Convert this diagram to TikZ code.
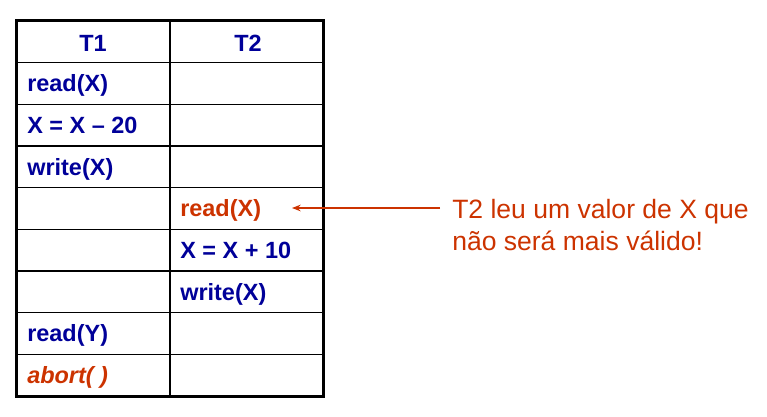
\documentclass[tikz,border=0pt]{standalone}
\usepackage{fontspec}
\setmainfont{Liberation Sans}
\usetikzlibrary{arrows.meta,positioning}

\begin{document}
\begin{tikzpicture}[x=0.75pt, y=-0.75pt]
  \definecolor{opblue}{HTML}{000099}
  \definecolor{opred}{HTML}{CC3300}
  \tikzstyle{cell}=[anchor=base west, inner sep=0pt, text=opblue,
    font=\fontsize{17.6}{20}\selectfont\bfseries]
  \tikzstyle{head}=[cell, anchor=base]
  \tikzstyle{fail}=[cell, text=opred]
  \tikzstyle{note}=[anchor=base west, inner sep=0pt, text=opred,
    font=\fontsize{19.9}{24}\selectfont]
  \tikzstyle{pointer}=[draw=opred, line width=0.8pt,
    -{Stealth[length=6.5pt, width=5pt]}]

  \useasboundingbox (0,0) rectangle (767,417);

  % schedule grid
  \foreach \r in {1,...,8}
    \draw[line width=1pt] (16,{21+\r*41.67}) -- (323,{21+\r*41.67});
  \draw[line width=1pt] (170,21) -- (170,396);
  \draw[line width=2.25pt] (16,21) rectangle (323,396);

  \node[head] (t1) at (93,52) {T1};
  \node[head] (t2) at (248,52) {T2};

  \node[cell] (r1) at (27,91.8) {read(X)};
  \node[cell] (r2) at (27,133.5) {X = X – 20};
  \node[cell] (r3) at (27,175.1) {write(X)};
  \node[fail] (r4) at (180,216.8) {read(X)};
  \node[cell] (r5) at (180,258.5) {X = X + 10};
  \node[cell] (r6) at (180,300.1) {write(X)};
  \node[cell] (r7) at (27,341.8) {read(Y)};
  \node[fail, font=\fontsize{17.6}{20}\selectfont\bfseries\itshape] (r8) at (27,383.5) {abort( )};

  % remark
  \node[note] (note1) at (452,218) {T2 leu um valor de X que};
  \node[note] (note2) at (452,250) {não será mais válido!};

  \coordinate (tail) at ([xshift=-9pt]note1.base west);
  \coordinate (tip) at ([xshift=23pt, yshift=6.6pt]r4.base east);
  \draw[pointer] (tail |- tip) -- (tip);

\end{tikzpicture}
\end{document}
